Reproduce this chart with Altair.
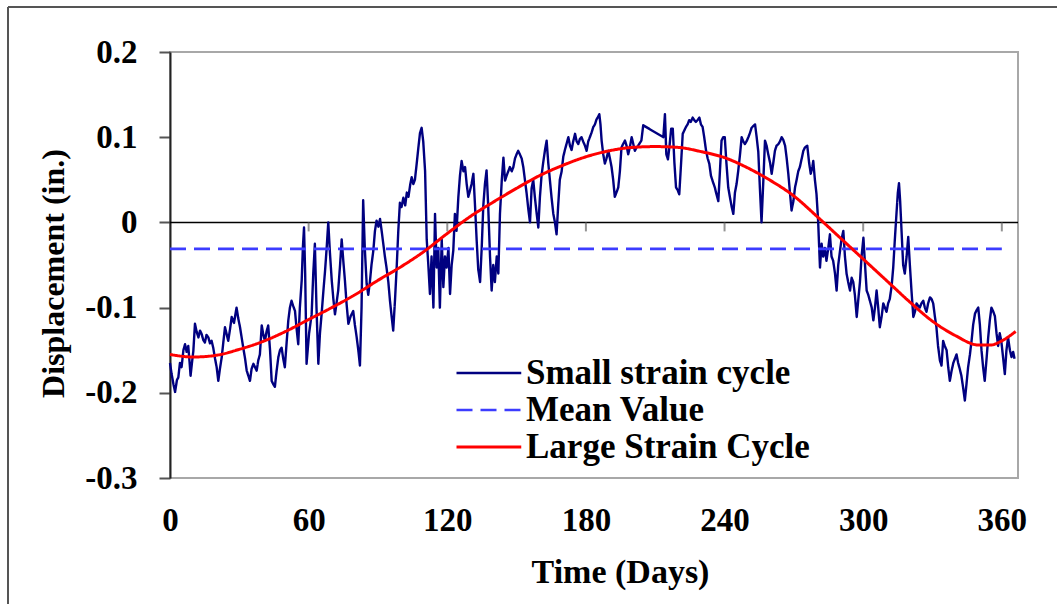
import altair as alt
import pandas as pd

# Daily small-strain displacement record (days, inches)
small_days = [
    0, 0.7, 1.5, 2.2, 3.0, 3.6, 4.3, 5.0, 5.8, 6.5, 7.2, 7.9, 8.5, 8.9, 9.5, 10.1, 10.8, 11.5, 12.3, 13.0,
    13.7, 14.4, 15.1, 15.8, 16.6, 17.3, 18.0, 18.7, 19.5, 20.2, 20.9, 21.6, 22.4, 23.1, 23.8, 24.5, 25.2, 26.0,
    26.7, 27.7, 28.8, 29.5, 30.3, 31.0, 31.7, 32.5, 33.2, 33.9, 34.6, 35.3, 36.1, 36.8, 37.5, 38.2, 38.9, 39.7,
    40.4, 41.1, 41.8, 42.5, 43.3, 44.0, 44.7, 45.4, 46.1, 46.9, 47.6, 48.3, 49.0, 49.7, 50.5, 51.2, 51.9, 52.6,
    53.3, 54.1, 54.8, 55.5, 56.2, 57.0, 57.5, 58.0, 58.5, 59.1, 60.2, 61.3, 62.0, 62.7, 63.4, 64.2, 64.9, 65.6,
    66.4, 67.1, 67.8, 68.5, 69.2, 70.0, 70.7, 71.4, 72.1, 72.8, 73.6, 74.3, 75.0, 75.7, 76.4, 77.2, 78.2, 79.3,
    80.0, 80.8, 81.5, 82.2, 82.9, 83.6, 84.3, 85.1, 85.8, 86.5, 87.2, 88.0, 88.7, 89.4, 90.2, 90.9, 91.6, 92.3,
    93.0, 93.7, 94.5, 95.2, 95.9, 96.6, 97.4, 98.1, 98.8, 99.5, 100.2, 101.0, 101.8, 102.5, 103.2, 104.0, 104.6,
    105.3, 106.0, 106.8, 107.5, 108.2, 108.9, 109.6, 110.4, 111.1, 111.8, 112.5, 113.2, 114.0, 114.7, 115.4,
    116.1, 116.8, 117.6, 118.3, 119.0, 119.7, 120.5, 121.2, 121.9, 122.6, 123.3, 124.0, 124.8, 125.5, 126.2,
    127.0, 127.7, 128.4, 129.1, 129.8, 130.5, 131.3, 132.0, 132.7, 133.4, 134.2, 134.9, 135.6, 136.3, 137.0,
    137.7, 138.5, 139.2, 139.9, 140.6, 141.4, 142.1, 142.8, 143.6, 144.3, 145.0, 145.7, 146.4, 147.1, 147.9,
    148.6, 149.3, 150.0, 150.7, 151.4, 152.2, 152.9, 153.6, 154.3, 155.1, 155.8, 156.5, 157.2, 157.9, 158.7,
    159.4, 160.1, 160.8, 161.5, 162.3, 163.0, 163.7, 164.4, 165.1, 165.9, 166.6, 167.3, 168.0, 168.7, 169.5,
    170.2, 170.9, 171.6, 172.4, 173.1, 173.8, 174.5, 175.3, 176.0, 176.7, 177.4, 178.1, 178.8, 179.6, 180.3,
    181.0, 181.7, 182.4, 183.2, 183.9, 184.6, 185.3, 185.8, 186.3, 186.8, 187.5, 188.2, 188.9, 189.7, 190.4,
    191.1, 191.8, 192.5, 193.2, 194.0, 194.7, 195.4, 196.1, 196.9, 197.6, 198.3, 199.0, 199.8, 200.5, 201.2,
    201.9, 202.6, 203.3, 204.0, 204.8, 213.5, 214.2, 214.8, 215.5, 216.2, 216.9, 217.6, 218.3, 219.0, 219.7,
    220.4, 221.2, 221.9, 222.6, 223.3, 224.0, 224.7, 225.4, 226.2, 226.9, 227.6, 228.3, 229.1, 229.8, 230.5,
    231.2, 232.0, 232.7, 233.4, 234.1, 234.9, 235.8, 236.5, 237.3, 238.0, 238.7, 239.4, 240.1, 240.8, 241.6,
    242.3, 243.1, 243.8, 244.5, 245.2, 245.9, 246.7, 247.4, 248.1, 248.8, 249.5, 250.3, 251.0, 251.7, 252.4,
    253.2, 253.9, 254.6, 255.3, 256.0, 256.8, 257.5, 258.2, 258.9, 259.7, 260.4, 261.1, 261.8, 262.5, 263.3,
    264.0, 264.7, 265.4, 266.2, 266.9, 267.6, 268.3, 269.0, 269.8, 270.5, 271.2, 271.9, 272.6, 273.4, 274.1,
    274.8, 275.8, 276.6, 277.3, 278.0, 278.4, 279.1, 279.8, 280.5, 281.3, 282.0, 282.7, 283.4, 284.1, 284.9,
    285.6, 286.3, 287.0, 287.8, 288.5, 289.2, 289.9, 290.6, 291.4, 292.1, 292.8, 293.5, 294.3, 295.0, 295.7,
    296.4, 297.2, 297.9, 298.6, 299.3, 300.1, 300.8, 301.5, 302.2, 302.9, 303.7, 304.4, 305.1, 305.8, 306.5,
    307.2, 308.0, 308.7, 309.4, 310.1, 310.8, 311.5, 312.3, 313.0, 313.7, 314.4, 315.0, 315.5, 316.0, 316.6,
    317.3, 318.0, 318.8, 319.5, 320.2, 320.9, 321.7, 322.4, 323.1, 323.8, 324.5, 325.2, 326.0, 326.7, 327.4,
    328.1, 328.9, 329.6, 330.3, 331.0, 331.7, 332.4, 333.2, 333.9, 334.6, 335.3, 336.1, 336.8, 337.5, 338.2,
    339.0, 339.7, 340.4, 341.1, 341.8, 342.5, 343.3, 344.0, 344.7, 345.4, 346.2, 346.9, 347.6, 348.4, 349.1,
    349.8, 350.5, 351.2, 351.9, 352.6, 353.4, 354.1, 354.8, 355.5, 356.2, 357.0, 357.7, 358.4, 359.1, 359.8,
    360.6, 361.3, 362.0, 362.7, 363.5, 364.2, 364.9, 365.5,
]
small_disp = [
    -0.165, -0.178, -0.190, -0.199, -0.185, -0.182, -0.165, -0.170, -0.150, -0.143, -0.152, -0.145, -0.165,
    -0.180, -0.165, -0.151, -0.119, -0.128, -0.135, -0.127, -0.131, -0.138, -0.141, -0.132, -0.135, -0.142,
    -0.139, -0.147, -0.160, -0.170, -0.186, -0.172, -0.158, -0.140, -0.123, -0.131, -0.139, -0.125, -0.111,
    -0.118, -0.100, -0.112, -0.123, -0.135, -0.147, -0.160, -0.174, -0.180, -0.186, -0.172, -0.166, -0.170,
    -0.174, -0.162, -0.155, -0.121, -0.132, -0.139, -0.128, -0.121, -0.150, -0.186, -0.190, -0.193, -0.175,
    -0.158, -0.150, -0.147, -0.160, -0.170, -0.140, -0.115, -0.100, -0.092, -0.098, -0.104, -0.125, -0.143,
    -0.100, -0.068, -0.030, -0.006, -0.060, -0.166, -0.130, -0.108, -0.060, -0.025, -0.100, -0.166, -0.130,
    -0.108, -0.080, -0.057, -0.030, 0.000, -0.035, -0.068, -0.090, -0.108, -0.094, -0.080, -0.050, -0.020,
    -0.045, -0.068, -0.095, -0.119, -0.110, -0.104, -0.120, -0.135, -0.150, -0.168, -0.100, 0.026, -0.030,
    -0.072, -0.085, -0.070, -0.050, -0.033, -0.010, 0.002, -0.005, 0.004, -0.010, -0.025, -0.040, -0.053,
    -0.070, -0.092, -0.110, -0.127, -0.090, -0.053, -0.010, 0.023, 0.018, 0.029, 0.020, 0.035, 0.030, 0.045,
    0.053, 0.045, 0.050, 0.070, 0.088, 0.105, 0.111, 0.095, 0.060, -0.020, -0.050, -0.084, -0.040, -0.100,
    0.010, -0.053, -0.030, -0.100, -0.020, -0.076, -0.040, -0.053, -0.030, -0.084, -0.050, -0.033, 0.010,
    -0.010, 0.030, 0.055, 0.072, 0.060, 0.065, 0.045, 0.030, 0.037, 0.045, 0.057, 0.020, -0.020, -0.055,
    -0.070, -0.030, 0.020, 0.045, 0.061, 0.020, -0.040, -0.080, -0.050, -0.070, -0.040, -0.060, 0.010, 0.050,
    0.076, 0.049, 0.055, 0.060, 0.065, 0.060, 0.065, 0.075, 0.080, 0.084, 0.080, 0.075, 0.065, 0.050, 0.035,
    0.015, 0.000, 0.040, 0.050, 0.030, 0.010, -0.006, 0.030, 0.055, 0.070, 0.085, 0.096, 0.070, 0.050, 0.030,
    0.010, 0.000, -0.014, 0.020, 0.050, 0.060, 0.077, 0.085, 0.092, 0.100, 0.090, 0.085, 0.095, 0.104, 0.095,
    0.092, 0.098, 0.100, 0.095, 0.090, 0.084, 0.095, 0.100, 0.105, 0.112, 0.115, 0.121, 0.124, 0.127, 0.115,
    0.096, 0.080, 0.069, 0.075, 0.084, 0.075, 0.065, 0.050, 0.030, 0.035, 0.041, 0.060, 0.088, 0.092, 0.096,
    0.090, 0.080, 0.088, 0.100, 0.092, 0.084, 0.088, 0.090, 0.093, 0.096, 0.114, 0.100, 0.127, 0.080, 0.074,
    0.090, 0.110, 0.110, 0.070, 0.041, 0.038, 0.033, 0.070, 0.104, 0.108, 0.112, 0.115, 0.120, 0.118, 0.123,
    0.120, 0.118, 0.120, 0.123, 0.115, 0.112, 0.100, 0.084, 0.075, 0.069, 0.055, 0.048, 0.041, 0.033, 0.025,
    0.060, 0.096, 0.100, 0.100, 0.070, 0.041, 0.030, 0.018, 0.010, 0.035, 0.045, 0.060, 0.080, 0.100, 0.095,
    0.092, 0.095, 0.100, 0.105, 0.111, 0.113, 0.115, 0.100, 0.083, 0.040, 0.000, 0.050, 0.096, 0.090, 0.080,
    0.070, 0.057, 0.070, 0.084, 0.090, 0.092, 0.095, 0.100, 0.097, 0.090, 0.075, 0.057, 0.035, 0.014, 0.025,
    0.041, 0.050, 0.060, 0.065, 0.075, 0.084, 0.088, 0.090, 0.070, 0.057, 0.065, 0.072, 0.050, 0.033, 0.002,
    -0.053, -0.025, -0.040, -0.030, -0.045, -0.030, -0.014, -0.040, -0.045, -0.060, -0.080, -0.050, -0.035,
    -0.020, -0.010, -0.040, -0.060, -0.070, -0.080, -0.065, -0.070, -0.085, -0.111, -0.090, -0.070, -0.040,
    -0.018, -0.050, -0.080, -0.085, -0.092, -0.100, -0.115, -0.100, -0.080, -0.100, -0.123, -0.110, -0.095,
    -0.100, -0.105, -0.095, -0.090, -0.075, -0.053, -0.020, 0.010, 0.035, 0.046, 0.025, -0.010, -0.050, -0.060,
    -0.040, -0.017, -0.050, -0.080, -0.111, -0.105, -0.095, -0.098, -0.100, -0.095, -0.092, -0.100, -0.105,
    -0.095, -0.088, -0.090, -0.095, -0.110, -0.123, -0.145, -0.162, -0.168, -0.139, -0.145, -0.150, -0.170,
    -0.186, -0.175, -0.165, -0.160, -0.155, -0.165, -0.172, -0.180, -0.195, -0.209, -0.190, -0.170, -0.155,
    -0.139, -0.120, -0.107, -0.103, -0.100, -0.120, -0.150, -0.170, -0.186, -0.160, -0.135, -0.115, -0.100,
    -0.104, -0.110, -0.130, -0.145, -0.130, -0.140, -0.160, -0.178, -0.150, -0.135, -0.150, -0.158, -0.152,
    -0.160,
]

# Smooth annual (large strain) cycle
large_days = [0, 10, 20, 30, 40, 50, 60, 70, 80, 90, 100, 110, 120, 130, 140, 150, 160, 170, 180, 190,
              200, 210, 220, 230, 240, 250, 260, 270, 280, 290, 300, 310, 320, 330, 340, 350, 355, 360, 366]
large_disp = [-0.155, -0.158, -0.156, -0.149, -0.140, -0.128, -0.114, -0.100, -0.085, -0.068, -0.052,
              -0.034, -0.013, 0.007, 0.024, 0.040, 0.055, 0.067, 0.077, 0.084, 0.088, 0.089, 0.088, 0.083,
              0.076, 0.064, 0.049, 0.031, 0.007, -0.018, -0.043, -0.068, -0.093, -0.116, -0.133, -0.144,
              -0.144, -0.139, -0.128]

mean_value = -0.031
mean_span = [0, 360]

series_names = ["Small strain cycle", "Mean Value", "Large Strain Cycle"]
series_colors = ["#000080", "#3c3cff", "#ff0000"]
series_dash = [[1, 0], [16, 8], [1, 0]]
series_width = [2.4, 3, 4.5]

x_ticks = [0, 60, 120, 180, 240, 300, 360]
y_ticks = [-0.3, -0.2, -0.1, 0, 0.1, 0.2]

FONT = "Liberation Serif"

small_df = pd.DataFrame({"day": small_days, "disp": small_disp, "series": series_names[0]})
large_df = pd.DataFrame({"day": large_days, "disp": large_disp, "series": series_names[2]})
mean_df = pd.DataFrame({"day": [mean_span[0]], "day2": [mean_span[1]], "disp": [mean_value],
                        "series": [series_names[1]]})
zero_df = pd.DataFrame({"disp": [0.0]})
tick_df = pd.DataFrame({"day": x_ticks[1:], "disp": 0.0})

x_scale = alt.Scale(domain=[0, 367], nice=False, zero=False)
y_scale = alt.Scale(domain=[-0.3, 0.2], nice=False, zero=False)

# Legend key: a long horizontal stroke drawn from the symbol's left edge,
# so the row height stays compact while the sample line stays long.
LEGEND_KEY = "M -1 0 L 2.7 0"

color_enc = alt.Color(
    "series:N",
    scale=alt.Scale(domain=series_names, range=series_colors),
    legend=alt.Legend(
        title=None, orient="none", legendX=285, legendY=302, symbolType=LEGEND_KEY,
        symbolSize=1225, labelFont=FONT, labelFontSize=35, labelFontWeight="bold",
        labelColor="#000000", labelOffset=33, labelLimit=500, rowPadding=-2, padding=0,
    ),
)
dash_enc = alt.StrokeDash("series:N", scale=alt.Scale(domain=series_names, range=series_dash))
width_enc = alt.StrokeWidth("series:N", scale=alt.Scale(domain=series_names, range=series_width))

# Tick labels written with a plain hyphen for negatives
y_label_expr = ("datum.value == 0 ? '0' : (datum.value < 0 ? '-' + format(-datum.value, '.1f') "
                ": format(datum.value, '.1f'))")

x_enc = alt.X(
    "day:Q", scale=x_scale,
    axis=alt.Axis(
        values=x_ticks, title="Time (Days)", grid=False, domain=False, ticks=False,
        labelFont=FONT, labelFontSize=33, labelFontWeight="bold", labelColor="#000000",
        labelPadding=26, labelFlush=False, labelOverlap=False,
        titleFont=FONT, titleFontSize=34, titleFontWeight="bold", titleColor="#000000",
        titleX=450, titleY=104, titleAlign="center", titleBaseline="alphabetic",
    ),
)
y_enc = alt.Y(
    "disp:Q", scale=y_scale,
    axis=alt.Axis(
        values=y_ticks, labelExpr=y_label_expr, title="Displacement (in.)", grid=False,
        domainColor="#222222", domainWidth=2, tickColor="#555555", tickWidth=2, tickSize=11,
        labelFont=FONT, labelFontSize=33, labelFontWeight="bold", labelColor="#000000",
        labelPadding=22, labelFlush=False, labelOverlap=False,
        titleFont=FONT, titleFontSize=32, titleFontWeight="bold", titleColor="#000000",
        titleX=-107, titleY=221, titleAlign="center", titleBaseline="alphabetic", titleAngle=270,
    ),
)

zero_line = alt.Chart(zero_df).mark_rule(color="#000000", strokeWidth=1.5).encode(
    y=alt.Y("disp:Q", scale=y_scale), x=alt.value(0), x2=alt.value(848)
)

small_line = alt.Chart(small_df).mark_line(strokeJoin="round").encode(
    x=x_enc, y=y_enc, color=color_enc, strokeDash=dash_enc, strokeWidth=width_enc,
)

mean_line = alt.Chart(mean_df).mark_rule().encode(
    x=alt.X("day:Q", scale=x_scale), x2="day2:Q", y=alt.Y("disp:Q", scale=y_scale),
    color=color_enc, strokeDash=dash_enc, strokeWidth=width_enc,
)

large_line = alt.Chart(large_df).mark_line(interpolate="monotone").encode(
    x=alt.X("day:Q", scale=x_scale), y=alt.Y("disp:Q", scale=y_scale),
    color=color_enc, strokeDash=dash_enc, strokeWidth=width_enc,
)

zero_ticks = alt.Chart(tick_df).mark_tick(
    orient="vertical", size=9, thickness=2, color="#666666", yOffset=4.5
).encode(x=alt.X("day:Q", scale=x_scale), y=alt.Y("disp:Q", scale=y_scale))

# Outer chart frame (top and left edges)
frame_top = alt.Chart(zero_df).mark_rule(color="#555555", strokeWidth=2).encode(
    x=alt.value(-162), x2=alt.value(900), y=alt.value(-45)
)
frame_left = alt.Chart(zero_df).mark_rule(color="#555555", strokeWidth=2).encode(
    x=alt.value(-162), y=alt.value(-45), y2=alt.value(560)
)

chart = (
    alt.layer(zero_line, small_line, mean_line, large_line, zero_ticks, frame_top, frame_left)
    .properties(
        width=848, height=426,
        autosize=alt.AutoSizeParams(type="none"),
        padding={"left": 170, "top": 52, "right": 39, "bottom": 126},
        background="#ffffff",
    )
    .configure_view(stroke="#a8a8a8", strokeWidth=2)
)

chart.save("out.html", embed_options={"renderer": "svg", "actions": False})
